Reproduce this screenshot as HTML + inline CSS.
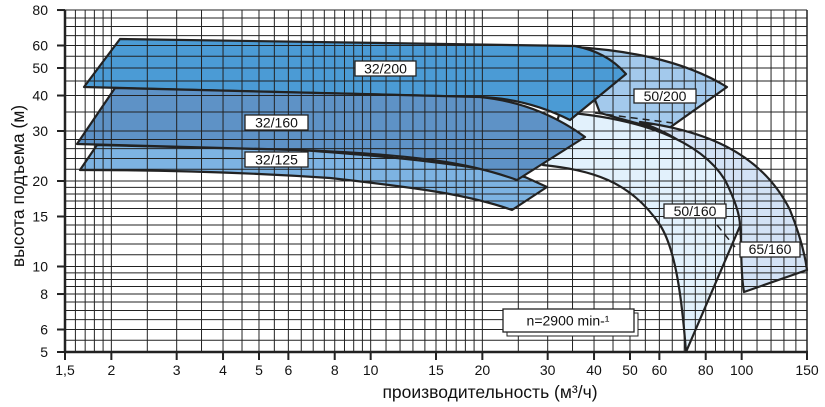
<!DOCTYPE html>
<html><head><meta charset="utf-8"><style>
body{margin:0;background:#fff}
svg{display:block;font-family:"Liberation Sans",sans-serif}
</style></head><body>
<svg id="s" width="825" height="407" viewBox="0 0 825 407" xmlns="http://www.w3.org/2000/svg">
<g id="shapes" stroke="#222" stroke-width="2.2" stroke-linejoin="round">
<path fill="#a3c9ec" d="M575,47 C620,50 680,58 727,87 L665,131 L600,113 Z"/>
<path fill="#d3e2f5" d="M640,122 C700,130 760,150 790,210 C800,235 805,255 807,270 L744,292 C740,270 742,240 740,226 C725,170 690,140 640,122 Z"/>
<path fill="#e2f1fc" d="M560,112 C640,118 700,140 725,180 C735,200 740,215 740,226 L686,352 C682,300 676,250 660,225 C630,180 590,170 543,165 Z"/>
<path fill="#4b9bd5" d="M84,87 L120,39 L575,46 C595,50 612,58 626,74 L570,120 C540,105 510,98 480,97 L84,87 Z"/>
<path fill="#7db3e2" d="M80,170 L97,145 L300,150 C400,157 470,165 525,177 L547,187 L512,210 C470,195 420,188 330,178 C240,172 150,170 80,170 Z"/>
<path fill="#5e92c6" d="M77,144 L115,88 L480,97 C520,101 555,115 585,137 L517,180 C470,163 420,155 300,150 Z"/>
</g>
<g id="grid" stroke="#222" stroke-width="1" fill="none"></g>
<g stroke="#222" stroke-width="1.5" stroke-dasharray="7,5" fill="none">
<path d="M595,113 L673,123"/><path d="M717,225 L735,247"/>
</g>
<g font-size="14" text-anchor="middle" fill="#111">
<rect x="355" y="61" width="61" height="15" fill="#fff" stroke="#222" stroke-width="1.3"/><text x="385.5" y="73.5">32/200</text>
<rect x="245" y="115" width="63" height="15" fill="#fff" stroke="#222" stroke-width="1.3"/><text x="276.5" y="127.5">32/160</text>
<rect x="245" y="152" width="63" height="15" fill="#fff" stroke="#222" stroke-width="1.3"/><text x="276.5" y="164.5">32/125</text>
<rect x="634" y="89" width="62" height="14" fill="#fff" stroke="#222" stroke-width="1.3"/><text x="665" y="101">50/200</text>
<rect x="664" y="204" width="62" height="14" fill="#fff" stroke="#222" stroke-width="1.3"/><text x="695" y="216">50/160</text>
<rect x="740" y="242" width="60" height="15" fill="#fff" stroke="#222" stroke-width="1.3"/><text x="770" y="254">65/160</text>
<rect x="507" y="313" width="131" height="23" fill="#fff" stroke="#222" stroke-width="1"/>
<rect x="503" y="309" width="131" height="23" fill="#fff" stroke="#222" stroke-width="1.3"/><text x="568" y="325.5">n=2900 min-¹</text>
</g>
<g id="lab" font-size="14" fill="#111"></g>
<text x="490" y="398" font-size="17.5" text-anchor="middle" fill="#111">производительность (м³/ч)</text>
<text transform="translate(24,186) rotate(-90)" font-size="17.5" text-anchor="middle" fill="#111">высота подъема (м)</text>
</svg>
<script>
var NS="http://www.w3.org/2000/svg";
function X(v){return 65+371*Math.log10(v/1.5)}
function Y(v){return 352-284*Math.log10(v/5)}
var g=document.getElementById('grid'),lab=document.getElementById('lab');
function line(x1,y1,x2,y2,w){var l=document.createElementNS(NS,'line');l.setAttribute('x1',x1);l.setAttribute('y1',y1);l.setAttribute('x2',x2);l.setAttribute('y2',y2);if(w)l.setAttribute('stroke-width',w);g.appendChild(l);}
function txt(x,y,s,a){var t=document.createElementNS(NS,'text');t.setAttribute('x',x);t.setAttribute('y',y);t.setAttribute('text-anchor',a);t.textContent=s;lab.appendChild(t);}
var xs=[];for(var v=1.5;v<2.001;v+=0.1)xs.push(v);for(v=2.5;v<10.001;v+=0.5)xs.push(v);for(v=11;v<=20;v++)xs.push(v);for(v=25;v<=100;v+=5)xs.push(v);for(v=110;v<=150;v+=10)xs.push(v);
xs.forEach(function(v){line(X(v),10,X(v),352,1)});
var ys=[];for(v=5.5;v<10.001;v+=0.5)ys.push(v);for(v=11;v<=20;v++)ys.push(v);for(v=22;v<=30;v+=2)ys.push(v);for(v=35;v<=80;v+=5)ys.push(v);
ys.forEach(function(v){line(65,Y(v),807,Y(v),1)});
line(65,10,65,353,2.5);line(64,352,808,352,2.5);line(807,10,807,352,1.5);
[[80,'80'],[60,'60'],[50,'50'],[40,'40'],[30,'30'],[20,'20'],[15,'15'],[10,'10'],[8,'8'],[6,'6'],[5,'5']].forEach(function(a){line(57,Y(a[0]),65,Y(a[0]),2);txt(48,Y(a[0])+5,a[1],'end')});
[[1.5,'1,5'],[2,'2'],[3,'3'],[4,'4'],[5,'5'],[6,'6'],[8,'8'],[10,'10'],[15,'15'],[20,'20'],[30,'30'],[40,'40'],[50,'50'],[60,'60'],[80,'80'],[100,'100'],[150,'150']].forEach(function(a){line(X(a[0]),352,X(a[0]),360,2);txt(X(a[0]),375,a[1],'middle')});
</script>
</body></html>
